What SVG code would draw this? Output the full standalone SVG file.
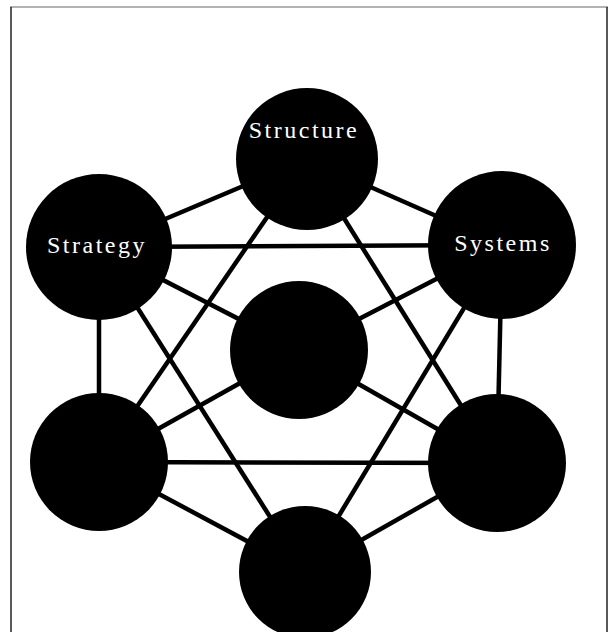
<svg xmlns="http://www.w3.org/2000/svg" width="616" height="632" viewBox="0 0 616 632">
<style>
.c{fill:#000}
.l line{stroke:#000;stroke-width:4.5}
.t{fill:#fff;font-family:"Liberation Serif",serif;font-size:24px;letter-spacing:2.5px;text-anchor:middle}
</style>
<rect width="616" height="632" fill="#fff"/>
<g id="frame" fill="none">
<line x1="10" y1="7" x2="608" y2="7" stroke="#999" stroke-width="1.5"/>
<line x1="11" y1="7" x2="11" y2="632" stroke="#222" stroke-width="1.5"/>
<line x1="607" y1="7" x2="607" y2="632" stroke="#222" stroke-width="1.5"/>
</g>
<g id="connectors" class="l">
<line x1="307" y1="159" x2="99" y2="247"/>
<line x1="307" y1="159" x2="502" y2="245"/>
<line x1="99" y1="247" x2="99" y2="462"/>
<line x1="502" y1="245" x2="497" y2="463"/>
<line x1="99" y1="462" x2="305" y2="572"/>
<line x1="497" y1="463" x2="305" y2="572"/>
<line x1="99" y1="247" x2="502" y2="245"/>
<line x1="99" y1="462" x2="497" y2="463"/>
<line x1="307" y1="159" x2="99" y2="462"/>
<line x1="307" y1="159" x2="497" y2="463"/>
<line x1="99" y1="247" x2="305" y2="572"/>
<line x1="502" y1="245" x2="305" y2="572"/>
<line x1="299" y1="350" x2="99" y2="247"/>
<line x1="299" y1="350" x2="502" y2="245"/>
<line x1="299" y1="350" x2="99" y2="462"/>
<line x1="299" y1="350" x2="497" y2="463"/>
</g>
<g id="structure"><circle class="c" cx="307" cy="159" r="71"/><text class="t" x="304" y="138">Structure</text></g>
<g id="strategy"><circle class="c" cx="99" cy="247" r="73"/><text class="t" x="97" y="253">Strategy</text></g>
<g id="systems"><circle class="c" cx="502" cy="245" r="74"/><text class="t" x="503" y="251">Systems</text></g>
<g id="center"><circle class="c" cx="299" cy="350" r="69"/></g>
<g id="bottom-left"><circle class="c" cx="99" cy="462" r="69"/></g>
<g id="bottom-right"><circle class="c" cx="497" cy="463" r="69"/></g>
<g id="bottom"><circle class="c" cx="305" cy="572" r="66"/></g>
</svg>
